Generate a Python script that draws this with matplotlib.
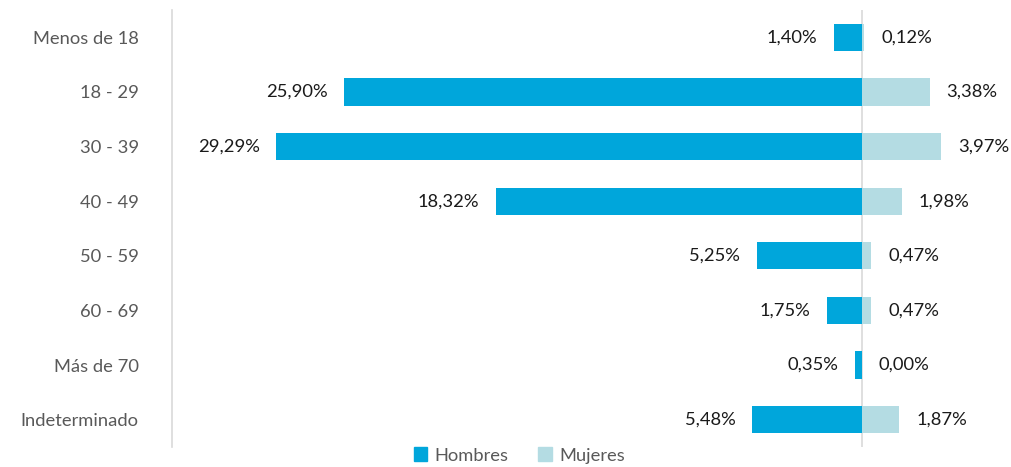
import matplotlib
matplotlib.use("Agg")
import matplotlib.pyplot as plt
import numpy as np
from matplotlib.patches import Patch

categories = ["Menos de 18", "18 - 29", "30 - 39", "40 - 49", "50 - 59", "60 - 69", "Más de 70", "Indeterminado"]
hombres = [1.40, 25.90, 29.29, 18.32, 5.25, 1.75, 0.35, 5.48]
mujeres = [0.12, 3.38, 3.97, 1.98, 0.47, 0.47, 0.00, 1.87]
series_names = ["Hombres", "Mujeres"]

c_h = "#00A6DB"
c_m = "#B4DCE3"

plt.rcParams['font.family'] = ['Lato', 'DejaVu Sans']
FS = 13.2

fig = plt.figure(figsize=(10.12, 4.67), dpi=100)
ax = fig.add_axes([172/1012, 1-447/467, 1-172/1012, 437/467])

y = np.arange(len(categories))
ax.axvline(0, color="#D9D9D9", lw=1.2, zorder=1)
ax.barh(y, [-v for v in hombres], height=0.5, color=c_h, zorder=2)
ax.barh(y, mujeres, height=0.5, color=c_m, zorder=2)

def fmt(v):
    return f"{v:.2f}%".replace(".", ",")

for i, v in enumerate(hombres):
    ax.annotate(fmt(v), xy=(-v, i), xytext=(-12, 0), textcoords="offset points",
                ha="right", va="center", fontsize=FS, color="#1a1a1a")
for i, v in enumerate(mujeres):
    ax.annotate(fmt(v), xy=(v, i), xytext=(12, 0), textcoords="offset points",
                ha="left", va="center", fontsize=FS, color="#1a1a1a")

ax.set_xlim(-34.5, 7.5)
ax.set_ylim(len(categories) - 0.5, -0.5)
ax.set_yticks(y)
ax.set_yticklabels(categories, fontsize=FS, color="#595959")
ax.tick_params(axis="y", length=0, pad=24)
ax.set_xticks([])
for s in ["top", "right", "bottom"]:
    ax.spines[s].set_visible(False)
ax.spines["left"].set_color("#D9D9D9")
ax.spines["left"].set_linewidth(1.2)

handles = [Patch(color=c_h), Patch(color=c_m)]
fig.legend(handles, series_names, loc="lower center", bbox_to_anchor=(0.513, -0.028),
           ncol=2, frameon=False, fontsize=FS, labelcolor="#595959",
           handlelength=0.75, handleheight=0.75, handletextpad=0.4, columnspacing=1.6)

fig.savefig("out.png", dpi=100)
